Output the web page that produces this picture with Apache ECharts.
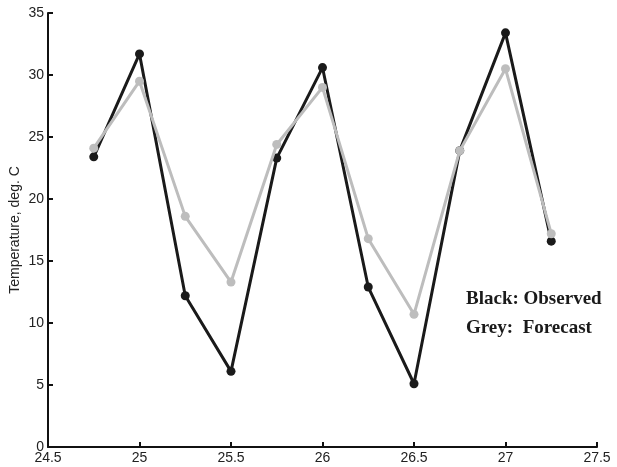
<!DOCTYPE html>
<html>
<head>
<meta charset="utf-8">
<script src="https://cdn.jsdelivr.net/npm/echarts@6/dist/echarts.min.js"></script>
<style>
html,body{margin:0;padding:0;background:#fff;}
#chart{width:617px;height:467px;}
</style>
</head>
<body>
<div id="chart"></div>
<script>
var days = [24.75, 25, 25.25, 25.5, 25.75, 26, 26.25, 26.5, 26.75, 27, 27.25];
var observed = [23.4, 31.7, 12.2, 6.1, 23.3, 30.6, 12.9, 5.1, 23.9, 33.4, 16.6];
var forecast = [24.1, 29.5, 18.6, 13.3, 24.4, 29.0, 16.8, 10.7, 23.9, 30.5, 17.2];
var legendLines = ['Black: Observed', 'Grey:  Forecast'];

function pairs(xs, ys) { return xs.map(function (x, i) { return [x, ys[i]]; }); }

var chart = echarts.init(document.getElementById('chart'));
var axisCommon = {
  axisLine: { show: true, onZero: false, lineStyle: { color: '#111', width: 2 } },
  axisTick: { show: true, inside: true, length: 5, lineStyle: { color: '#111', width: 2 } },
  splitLine: { show: false }
};
var labelStyle = { color: '#222', fontFamily: 'Liberation Sans', fontSize: 14, margin: 4 };
chart.setOption({
  backgroundColor: '#fff',
  animation: false,
  grid: { left: 48, right: 20, top: 13, bottom: 20, containLabel: false, outerBoundsMode: 'none' },
  xAxis: Object.assign({
    type: 'value', min: 24.5, max: 27.5, interval: 0.5
  }, axisCommon, { axisLabel: labelStyle }),
  yAxis: Object.assign({
    type: 'value', min: 0, max: 35, interval: 5,
    name: 'Temperature, deg. C', nameLocation: 'middle', nameGap: 26, nameMoveOverlap: false,
    nameTextStyle: { color: '#222', fontFamily: 'Liberation Sans', fontSize: 14 }
  }, axisCommon, { axisLabel: labelStyle }),
  series: [
    {
      type: 'line', data: pairs(days, observed),
      symbol: 'circle', symbolSize: 9,
      lineStyle: { color: '#1a1a1a', width: 3 },
      itemStyle: { color: '#1a1a1a' }, z: 2
    },
    {
      type: 'line', data: pairs(days, forecast),
      symbol: 'circle', symbolSize: 9,
      lineStyle: { color: '#bdbdbd', width: 3 },
      itemStyle: { color: '#bdbdbd' }, z: 3
    }
  ],
  graphic: [
    { type: 'text', left: 466, top: 290, style: { text: legendLines[0], font: 'bold 19px "Liberation Serif"', fill: '#1a1a1a' } },
    { type: 'text', left: 466, top: 319, style: { text: legendLines[1], font: 'bold 19px "Liberation Serif"', fill: '#1a1a1a' } }
  ]
});
</script>
</body>
</html>
